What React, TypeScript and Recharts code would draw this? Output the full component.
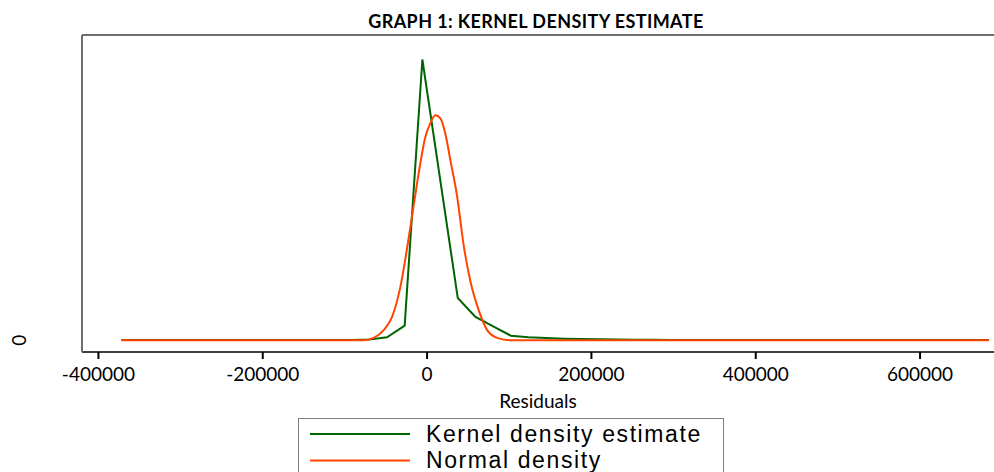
import React from 'react';
import {
  LineChart,
  Line,
  XAxis,
  YAxis,
  Legend,
  ReferenceLine,
} from 'recharts';

// Kernel density evaluated on a 50 point grid (density values x 1e6)
const kernelX = [
  -372000, -350455, -328910, -307365, -285820, -264275, -242730, -221185, -199640, -178095,
  -156550, -135005, -113460, -91915, -70370, -48825, -27280, -5735, 15810, 37355,
  58900, 80445, 101990, 123535, 145080, 166625, 188170, 209715, 231260, 252805,
  274350, 295895, 317440, 338985, 360530, 382075, 403620, 425165, 446710, 468255,
  489800, 511345, 532890, 554435, 575980, 597525, 619070, 640615, 662160, 683705,
];
const kernelY = [
  0.01, 0.01, 0.01, 0.01, 0.01, 0.01, 0.01, 0.01, 0.01, 0.01,
  0.01, 0.015, 0.02, 0.02, 0.04, 0.19, 0.94, 18.1, 10.4, 2.72,
  1.5, 0.89, 0.29, 0.19, 0.14, 0.1, 0.08, 0.06, 0.045, 0.03,
  0.025, 0.02, 0.02, 0.015, 0.015, 0.01, 0.01, 0.01, 0.01, 0.01,
  0.01, 0.01, 0.01, 0.01, 0.01, 0.01, 0.01, 0.01, 0.01, 0.01,
];

// Normal density
const normalX = [
  -372000, -117800, -77200, -65000, -52900, -42600, -32500, -20300, -12200, -2100,
  4000, 10100, 16200, 22300, 28400, 36500, 44600, 52700, 62800, 73100,
  85300, 101500, 683705,
];
const normalY = [
  0, 0, 0, 0.15, 0.65, 1.5, 3.44, 7.31, 10.1, 13.1,
  14.0, 14.5, 14.3, 13.3, 11.6, 9.3, 6.1, 3.8, 1.94, 0.65,
  0.15, 0, 0,
];

const xTicks = [-400000, -200000, 0, 200000, 400000, 600000];
const yTicks = [0];

const kernelData = kernelX.map((x, i) => ({ x, y: kernelY[i] }));
const normalData = normalX.map((x, i) => ({ x, y: normalY[i] }));

const Y_MAX = 19.68;
const TICK_FONT = 'Lato, "Open Sans", sans-serif';

// rotated "0" label on the left
const YTick = (props: any) => {
  const { y, payload } = props;
  return (
    <text
      x={19}
      y={y}
      transform={`rotate(-90, 19, ${y})`}
      textAnchor="middle"
      dominantBaseline="central"
      fontFamily={TICK_FONT}
      fontSize={19}
      fill="#000"
    >
      {payload.value}
    </text>
  );
};

const LegendBox = (props: any) => {
  const { payload } = props;
  return (
    <div
      style={{
        width: 426,
        height: 54,
        boxSizing: 'border-box',
        borderTop: '1.5px solid #7f7f7f',
        borderLeft: '1.5px solid #7f7f7f',
        borderRight: '1.5px solid #7f7f7f',
        background: '#fff',
      }}
    >
      <svg width={423} height={53} style={{ display: 'block' }}>
        {payload.map((entry: any, i: number) => (
          <g key={`leg-${i}`}>
            <line x1={11} x2={111} y1={15 + i * 26.4} y2={15 + i * 26.4} stroke={entry.color} strokeWidth={2} />
            <text
              x={127}
              y={15 + i * 26}
              dominantBaseline="central"
              fontFamily='"Liberation Sans", Arial, sans-serif'
              fontSize={23}
              letterSpacing={1.6}
              fill="#000"
            >
              {entry.value}
            </text>
          </g>
        ))}
      </svg>
    </div>
  );
};

export default function App() {
  return (
    <div style={{ position: 'absolute', left: 0, top: 0, width: 994, height: 472, background: '#fff' }}>
      <LineChart width={994} height={472} margin={{ top: 35, right: 0, bottom: 60, left: 0 }}>
        <text
          x={536}
          y={28}
          textAnchor="middle"
          fontFamily={TICK_FONT}
          fontWeight="bold"
          fontSize={18}
          letterSpacing={0.4}
          fill="#000"
        >
          GRAPH 1: KERNEL DENSITY ESTIMATE
        </text>
        <XAxis
          dataKey="x"
          type="number"
          domain={[-420000, 690000]}
          ticks={xTicks}
          allowDataOverflow
          height={60}
          axisLine={{ stroke: '#000', strokeWidth: 1.5 }}
          tickLine={{ stroke: '#000', strokeWidth: 2 }}
          tickSize={7}
          tickMargin={9}
          tick={{ fill: '#000', fontSize: 19, fontFamily: TICK_FONT }}
          label={{
            value: 'Residuals',
            position: 'insideBottom',
            offset: 4,
            fill: '#000',
            fontSize: 19,
            fontFamily: TICK_FONT,
          }}
        />
        <YAxis
          type="number"
          domain={[-0.76, Y_MAX]}
          ticks={yTicks}
          allowDataOverflow
          width={82}
          axisLine={{ stroke: '#6e6e6e', strokeWidth: 2 }}
          tickLine={false}
          tick={<YTick />}
        />
        <ReferenceLine y={Y_MAX} stroke="#6e6e6e" strokeWidth={2} />
        <Line
          data={kernelData}
          dataKey="y"
          name="Kernel density estimate"
          type="linear"
          stroke="#006400"
          strokeWidth={2}
          dot={false}
          isAnimationActive={false}
        />
        <Line
          data={normalData}
          dataKey="y"
          name="Normal density"
          type="monotone"
          stroke="#ff4500"
          strokeWidth={2}
          dot={false}
          isAnimationActive={false}
        />
        <Legend
          layout="vertical"
          align="center"
          verticalAlign="middle"
          content={<LegendBox />}
          wrapperStyle={{ left: 298, top: 418 }}
        />
      </LineChart>
    </div>
  );
}
